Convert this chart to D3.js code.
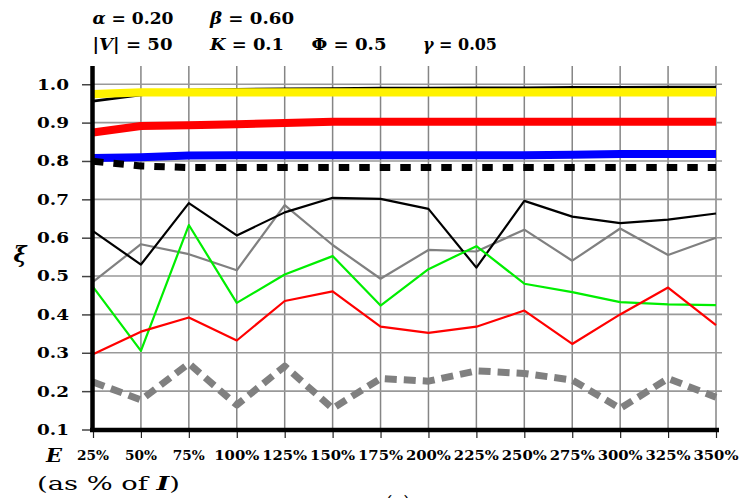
<!DOCTYPE html>
<html><head><meta charset="utf-8">
<script src="https://cdn.jsdelivr.net/npm/d3@7"></script>
<style>html,body{margin:0;padding:0;background:#fff;}svg{display:block;}</style>
</head><body>
<svg id="chart" width="739" height="498"></svg>
<script>
const categories = ["25%","50%","75%","100%","125%","150%","175%","200%","225%","250%","275%","300%","325%","350%"];
const yTicks = [0.1,0.2,0.3,0.4,0.5,0.6,0.7,0.8,0.9,1.0];
const blackTop    = [0.956,0.972,0.985,0.987,0.988,0.989,0.990,0.990,0.991,0.991,0.992,0.992,0.993,0.993];
const yellowThick = [0.974,0.979,0.979,0.979,0.979,0.979,0.979,0.979,0.979,0.979,0.979,0.979,0.979,0.979];
const redThick    = [0.874,0.891,0.893,0.896,0.899,0.902,0.902,0.902,0.902,0.902,0.902,0.902,0.902,0.902];
const blueThick   = [0.808,0.810,0.814,0.815,0.815,0.815,0.815,0.815,0.815,0.815,0.816,0.818,0.818,0.818];
const blackDashed = [0.799,0.787,0.783,0.783,0.783,0.783,0.783,0.783,0.783,0.783,0.783,0.783,0.783,0.783];
const blackThin   = [0.617,0.530,0.690,0.606,0.666,0.704,0.701,0.675,0.522,0.696,0.655,0.638,0.647,0.663];
const grayThin    = [0.485,0.583,0.557,0.515,0.685,0.581,0.493,0.568,0.564,0.621,0.540,0.624,0.555,0.600];
const greenThin   = [0.472,0.305,0.633,0.430,0.504,0.552,0.423,0.518,0.578,0.480,0.458,0.432,0.426,0.424];
const redThin     = [0.296,0.355,0.392,0.332,0.435,0.460,0.368,0.352,0.368,0.410,0.323,0.400,0.470,0.372];
const grayDashed  = [0.224,0.177,0.272,0.164,0.265,0.155,0.233,0.226,0.253,0.246,0.229,0.155,0.233,0.184];

const svg = d3.select("#chart");
const x = d3.scalePoint().domain(categories).range([93, 716]);
const y = d3.scaleLinear().domain([0.1, 1.0]).range([429.5, 84.25]);
const serif = "'DejaVu Serif', serif";

// gridlines
const g = svg.append("g");
g.selectAll("line.vg").data(categories.slice(1)).join("line")
  .attr("x1", d => x(d)).attr("x2", d => x(d)).attr("y1", 66).attr("y2", 430)
  .attr("stroke", "#858585").attr("stroke-width", 1.5);
g.selectAll("line.hg").data(yTicks.slice(1)).join("line")
  .attr("x1", 92).attr("x2", 722).attr("y1", d => y(d)).attr("y2", d => y(d))
  .attr("stroke", "#999").attr("stroke-width", 1.6);

// axes with d3
const yAxis = d3.axisLeft(y).tickValues(yTicks).tickSize(10).tickFormat("");
const yg = svg.append("g").attr("transform", "translate(92,0)").call(yAxis);
yg.select(".domain").remove();
yg.selectAll(".tick line").attr("stroke", "#444").attr("stroke-width", 1.5);
const xAxis = d3.axisBottom(x).tickSize(7).tickFormat("");
const xg = svg.append("g").attr("transform", "translate(0,431)").call(xAxis);
xg.select(".domain").remove();
xg.selectAll(".tick line").attr("stroke", "#222").attr("stroke-width", 1.2);

// tick labels
svg.selectAll("text.yl").data(yTicks).join("text")
  .attr("x", 69).attr("y", d => y(d) + 5.4)
  .attr("text-anchor", "end").attr("font-family", serif).attr("font-weight", "bold")
  .attr("font-size", 15).attr("textLength", 32).attr("lengthAdjust", "spacingAndGlyphs")
  .text(d => d.toFixed(1));
svg.selectAll("text.xl").data(categories).join("text")
  .attr("x", d => x(d)).attr("y", 460)
  .attr("text-anchor", "middle").attr("font-family", serif).attr("font-weight", "bold")
  .attr("font-size", 12).attr("textLength", d => d.length === 3 ? 32 : 45)
  .attr("lengthAdjust", "spacingAndGlyphs").text(d => d);

// series
const line = d3.line().x((d, i) => x(categories[i])).y(d => y(d));
function draw(data, color, width, dash) {
  const p = svg.append("path").datum(data).attr("d", line)
    .attr("fill", "none").attr("stroke", color).attr("stroke-width", width)
    .attr("stroke-linejoin", "round").attr("stroke-linecap", "butt");
  if (dash) p.attr("stroke-dasharray", dash);
}
draw(blackTop, "#000", 2.6);
draw(yellowThick, "#fff200", 8.3);
draw(redThick, "#ff0000", 8);
draw(blueThick, "#0000ff", 8);
draw(blackDashed, "#000", 7, "10.5,10");
draw(grayThin, "#808080", 2.2);
draw(blackThin, "#000", 2.2);
draw(greenThin, "#00ee00", 2.2);
draw(redThin, "#ff0000", 2.2);
draw(grayDashed, "#808080", 7, "12,7");

// axis lines
svg.append("line").attr("x1", 92.5).attr("x2", 92.5).attr("y1", 66).attr("y2", 432)
  .attr("stroke", "#000").attr("stroke-width", 4.5);
svg.append("line").attr("x1", 90).attr("x2", 719).attr("y1", 430).attr("y2", 430)
  .attr("stroke", "#000").attr("stroke-width", 4.5);

// header
function mathText(xp, yp, parts, len, size) {
  const t = svg.append("text").attr("x", xp).attr("y", yp)
    .attr("font-family", serif).attr("font-weight", "bold").attr("font-size", size)
    .attr("textLength", len).attr("lengthAdjust", "spacingAndGlyphs");
  parts.forEach(p => t.append("tspan").attr("font-style", p[1] ? "italic" : "normal").text(p[0]));
}
mathText(92.5, 24, [["α", true], [" = 0.20", false]], 81, 16);
mathText(210, 24, [["β", true], [" = 0.60", false]], 84, 16);
mathText(92.5, 50, [["|", false], ["V", true], ["| = 50", false]], 80, 16);
mathText(210, 50, [["K", true], [" = 0.1", false]], 74, 16);
mathText(311.5, 50, [["Φ", false], [" = 0.5", false]], 75, 16);
mathText(423, 50, [["γ", true], [" = 0.05", false]], 74, 16);

// axis titles
svg.append("text").attr("x", 20).attr("y", 262).attr("text-anchor", "middle")
  .attr("font-family", serif).attr("font-weight", "bold").attr("font-style", "italic")
  .attr("font-size", 22).text("ξ");
svg.append("text").attr("x", 46).attr("y", 462)
  .attr("font-family", serif).attr("font-weight", "bold").attr("font-style", "italic")
  .attr("font-size", 18).attr("textLength", 16).attr("lengthAdjust", "spacingAndGlyphs").text("E");
const at = svg.append("text").attr("x", 37).attr("y", 490)
  .attr("font-family", serif).attr("font-size", 19)
  .attr("textLength", 143).attr("lengthAdjust", "spacingAndGlyphs");
at.append("tspan").text("(as % of ");
at.append("tspan").attr("font-weight", "bold").attr("font-style", "italic").text("I");
at.append("tspan").text(")");
svg.append("text").attr("x", 398).attr("y", 509).attr("text-anchor", "middle")
  .attr("font-family", serif).attr("font-size", 18).text("(a)");
</script>
</body></html>
